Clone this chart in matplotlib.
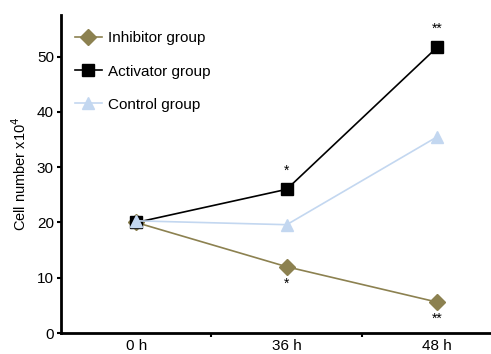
import matplotlib.pyplot as plt

plt.rcParams['font.family'] = ['Liberation Sans', 'DejaVu Sans']

# Data
time_labels = ["0 h", "36 h", "48 h"]
inhibitor = [20, 12, 5.6]
activator = [20, 26, 51.7]
control = [20.3, 19.6, 35.5]
inhibitor_marks = ["", "*", "**"]
activator_marks = ["", "*", "**"]

x = list(range(len(time_labels)))

fig = plt.figure(figsize=(4.91, 3.54), dpi=100)
ax = fig.add_axes([0.124, 0.059, 0.88, 0.90])

ax.plot(x, inhibitor, color="#8c8150", marker="D", markersize=8, lw=1.2,
        label="Inhibitor group")
ax.plot(x, activator, color="black", marker="s", markersize=9, lw=1.2,
        label="Activator group")
ax.plot(x, control, color="#c3d7f0", marker="^", markersize=9, lw=1.2,
        label="Control group")

for xi, yi, m in zip(x, activator, activator_marks):
    if m:
        ax.text(xi, yi + 2.1, m, ha="center", va="bottom", fontsize=10)
for xi, yi, m in zip(x, inhibitor, inhibitor_marks):
    if m:
        ax.text(xi, yi - 1.8, m, ha="center", va="top", fontsize=10)

ax.set_xlim(-0.5, 2.37)
ax.set_ylim(0, 57.6)
ax.set_yticks([0, 10, 20, 30, 40, 50])
ax.set_xticks(x)
ax.set_xticklabels(time_labels)
ax.tick_params(axis="x", length=0, labelsize=11, pad=4)
ax.set_xticks([0.5, 1.5], minor=True)
ax.tick_params(axis="x", which="minor", length=3, width=1.5)
ax.tick_params(axis="y", length=3, width=1.5, labelsize=11, pad=2)
ax.set_ylabel("Cell number x10$^4$", fontsize=10.5, labelpad=6)

for s in ["top", "right"]:
    ax.spines[s].set_visible(False)
for s in ["left", "bottom"]:
    ax.spines[s].set_linewidth(2)

ax.legend(loc="upper left", bbox_to_anchor=(0.0, 0.99), frameon=False,
          fontsize=11, handlelength=1.8, handletextpad=0.4,
          labelspacing=1.25)

fig.savefig("out.png", dpi=100)
